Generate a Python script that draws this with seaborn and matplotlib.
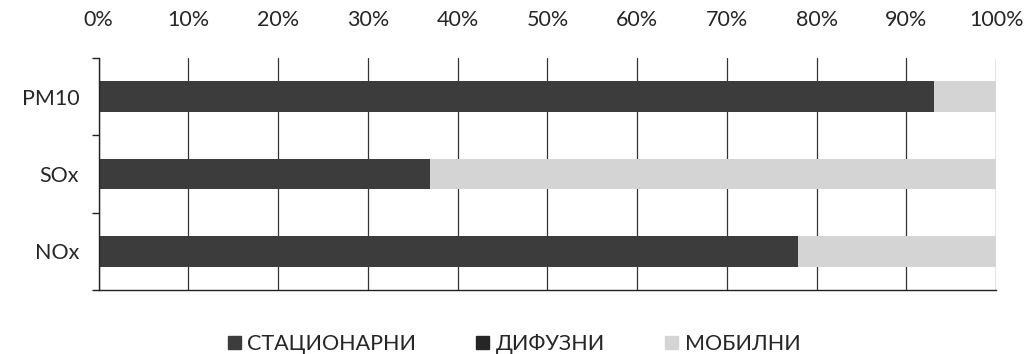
import matplotlib
matplotlib.use("Agg")
import matplotlib.pyplot as plt
import numpy as np
import pandas as pd
import seaborn as sns

sns.set_theme(style="white")
plt.rcParams["font.family"] = ["Lato", "DejaVu Sans"]

# data (% of total emissions)
pollutants = ["PM10", "SOx", "NOx"]
stacionarni = [93.1, 36.9, 77.9]
difuzni = [0.0, 0.0, 0.0]
mobilni = [6.9, 63.1, 22.1]
series_names = ["СТАЦИОНАРНИ", "ДИФУЗНИ", "МОБИЛНИ"]
colors = ["#3c3c3c", "#262626", "#d4d4d4"]

df = pd.DataFrame({"pollutant": pollutants, "st": stacionarni, "dif": difuzni, "mob": mobilni})
df["c1"] = df["st"]
df["c2"] = df["st"] + df["dif"]
df["c3"] = df["c2"] + df["mob"]

fig, ax = plt.subplots(figsize=(10.28, 3.54), dpi=100)
fig.subplots_adjust(left=0.096, right=0.969, top=0.836, bottom=0.181)

# draw cumulative layers from the back
for col, color in zip(["c3", "c2", "c1"], colors[::-1]):
    sns.barplot(data=df, y="pollutant", x=col, orient="h", color=color,
                width=0.4, ax=ax, saturation=1, edgecolor="none")

FS = 15.5
ax.set_xlim(0, 100)
ax.set_ylim(2.5, -0.5)
ax.set_xticks(np.arange(0, 101, 10))
ax.set_xticklabels([f"{v}%" for v in range(0, 101, 10)], fontsize=FS)
ax.xaxis.tick_top()
ax.tick_params(axis="x", length=0, pad=20)
ax.grid(axis="x", color="#333333", linewidth=0.9)
ax.set_axisbelow(True)
ax.set_xlabel("")
ax.set_ylabel("")

ax.set_yticks([0, 1, 2])
ax.set_yticklabels(pollutants, fontsize=FS)
ax.set_yticks([-0.5, 0.5, 1.5, 2.5], minor=True)
ax.tick_params(axis="y", which="major", length=0, pad=14)
ax.tick_params(axis="y", which="minor", length=5, color="#222222", direction="out", left=True)

for side in ["top", "right"]:
    ax.spines[side].set_visible(False)
for side in ["left", "bottom"]:
    ax.spines[side].set_color("#222222")
    ax.spines[side].set_linewidth(1.0)

handles = [plt.Rectangle((0, 0), 1, 1, color=c) for c in colors]
fig.legend(handles, series_names, loc="lower center", ncol=3, frameon=False,
           fontsize=FS, bbox_to_anchor=(0.5, -0.055), handlelength=0.6,
           handleheight=0.6, handletextpad=0.3, columnspacing=2.8)

fig.savefig("out.png", dpi=100)
